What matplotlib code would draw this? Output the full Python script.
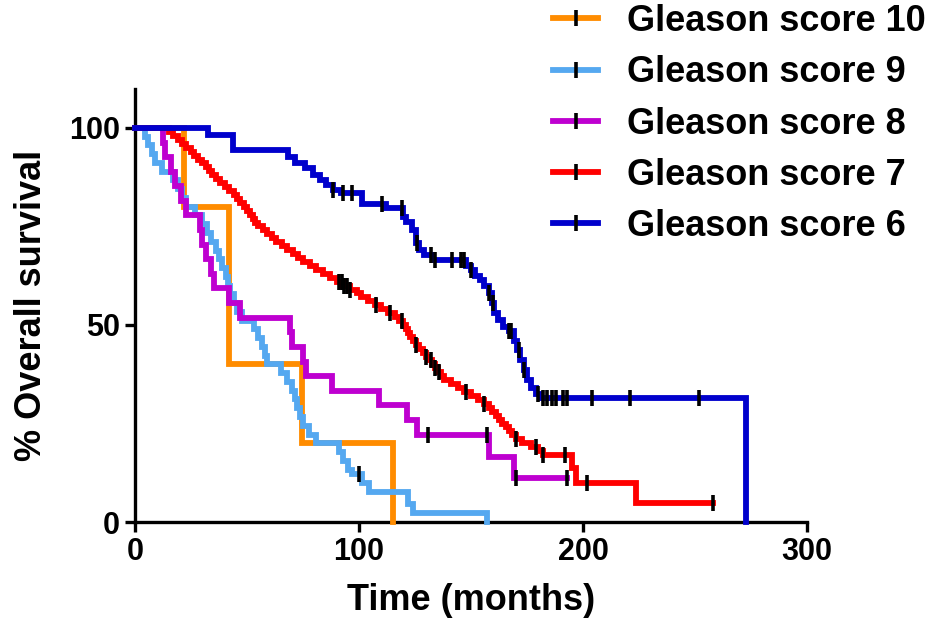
import matplotlib
matplotlib.use('Agg')
import matplotlib.pyplot as plt
from matplotlib.lines import Line2D
import numpy as np

plt.rcParams['font.family'] = ['Liberation Sans', 'DejaVu Sans']
plt.rcParams['font.weight'] = 'bold'

# ---------------- data ----------------
labels = ["Gleason score 10", "Gleason score 9", "Gleason score 8",
          "Gleason score 7", "Gleason score 6"]
colors = ["#FF8C00", "#55A8F0", "#BE00D0", "#FF0000", "#0000CC"]

# Gleason 10
gs10_t = [0, 22, 42, 74.5, 115]
gs10_s = [100, 80, 40, 20, 0]
gs10_c = []

# Gleason 9
gs9_t = [0, 4.5, 6, 7.5, 9, 12, 17, 19, 21, 23, 27, 30, 32, 34, 36, 37.5, 39,
         40.5, 41.5, 42.5, 44, 45.5, 48, 53, 55, 56.5, 58, 59, 65, 68, 70, 71.5,
         72.5, 73.5, 75, 77.5, 81, 91, 93, 95, 97, 101.5, 104.5, 122, 124, 157]
gs9_s = [100, 97.8, 95.6, 93.3, 91.1, 88.9, 86.7, 84.4, 82.2, 80, 77.8, 75.6,
         73.3, 71.1, 68.9, 66.7, 64.4, 62.2, 60, 57.8, 55.6, 53.3, 51.1, 48.9,
         46.7, 44.4, 42.2, 40, 37.8, 35.6, 33.3, 31.1, 28.9, 26.7, 24.4, 22.2,
         20, 17.8, 15.6, 13.3, 12.2, 10, 7.5, 4.5, 2.3, 0]
gs9_c = [100]

# Gleason 8
gs8_t = [0, 12.5, 13.5, 16, 18, 20.5, 23, 29, 30, 31.5, 34, 35.5, 42, 47, 69,
         70, 75, 76.5, 88, 109, 121.5, 126, 158, 169, 193]
gs8_s = [100, 96.3, 92.6, 88.9, 85.2, 81.5, 77.8, 74.1, 70.4, 66.7, 63, 59.3,
         55.6, 51.9, 48.1, 44.4, 40.7, 37, 33.3, 29.6, 25.9, 22.2, 16.6, 11.1,
         11.1]
gs8_c = [131, 157, 170, 193]

# Gleason 7
gs7_t = [0, 15, 17, 19, 21, 23, 25, 26.5, 28, 30, 31.5, 33, 34.5, 36, 38, 40,
         42, 44, 45.5, 47, 48.5, 50, 51.5, 52.5, 53.5, 55, 57, 59, 61, 63, 65.5,
         68, 70.5, 73, 75, 78, 81, 84, 87, 90, 93, 96, 99, 101, 104, 107, 110,
         113, 116, 118, 119.5, 121, 122, 123, 124, 125.5, 127, 128.5, 130, 131,
         132.5, 134, 135.5, 136.5, 138, 141, 144, 147, 150, 153, 156, 158, 159.5,
         161, 162.5, 164, 165.5, 167, 168.5, 170, 173, 177, 180, 182, 195, 197,
         223.5, 258]
gs7_s = [100, 99, 98, 97, 96, 95, 94, 93, 92, 91, 90, 89, 88, 87, 86, 85, 84,
         83, 82, 81, 80, 79, 78, 77, 76, 75, 74, 73, 72, 71, 70, 69, 68, 67, 66,
         65, 64, 63, 62, 61, 60, 59, 58, 57, 56, 55, 54, 53, 52, 51, 50, 49, 48,
         47, 46, 45, 44, 43, 42, 41, 40, 39, 38, 37, 36, 35, 34, 33, 32, 31, 30,
         29, 28, 27, 26, 25, 24, 23, 22, 21, 20, 19, 18, 17, 13.7, 10, 4.8, 4.8]
gs7_c = [91, 92.5, 93.5, 94.5, 96, 107.7, 114, 119, 125.5, 130, 132, 134,
         135.7, 148, 156, 170, 179, 182, 192, 201.6, 258]

# Gleason 6
gs6_t = [0, 32.5, 43.7, 68.5, 71.5, 76, 79.5, 82.5, 85.5, 88.5, 92, 101.5, 112,
         119.5, 121, 123.5, 125.5, 127, 129, 133, 148, 150, 152, 154, 156, 158,
         159.5, 160.5, 162, 164.5, 167, 169, 170.5, 172, 173.5, 175, 177, 179,
         181, 273]
gs6_s = [100, 98.2, 94.4, 92.6, 91, 89.8, 88, 86.8, 85.5, 84.3, 83.5, 80.8,
         79.6, 77.5, 76.2, 74, 70.8, 69, 67.8, 66.4, 65, 64, 62.5, 61.3, 59.8,
         58, 55.5, 53, 51.3, 49.5, 48.5, 46, 43.6, 41, 38.6, 36, 34, 32.5, 31.4,
         0]
gs6_c = [88.5, 93, 97, 110.5, 119, 126, 132, 134, 141.5, 145.5, 147, 150, 158,
         160, 167, 168, 171.3, 173.6, 180, 182, 184, 186, 188, 191, 193, 204,
         221, 252]

x_ticks = [0, 100, 200, 300]
y_ticks = [0, 50, 100]
x_label = "Time (months)"
y_label = "% Overall survival"

series = [(gs10_t, gs10_s, gs10_c), (gs9_t, gs9_s, gs9_c), (gs8_t, gs8_s, gs8_c),
          (gs7_t, gs7_s, gs7_c), (gs6_t, gs6_s, gs6_c)]

# ---------------- figure ----------------
fig = plt.figure(figsize=(9.38, 6.3), dpi=100)
ax = fig.add_axes([0.1439, 0.1714, 0.7164, 0.688])

LW = 4.2
MS = 11
MEW = 2.6
for (t, s, c), col in zip(series, colors):
    ax.step(t, s, where='post', color=col, lw=LW, clip_on=False, zorder=3,
            solid_joinstyle='miter')
    if c:
        t_arr = np.asarray(t, dtype=float)
        s_arr = np.asarray(s, dtype=float)
        idx = np.searchsorted(t_arr, np.asarray(c, dtype=float), side='right') - 1
        idx = np.clip(idx, 0, len(s_arr) - 1)
        ax.plot(c, s_arr[idx], ls='none', marker='|', ms=MS, mew=MEW,
                color='black', clip_on=False, zorder=4)

ax.set_xlim(0, 300)
ax.set_ylim(0, 110)
ax.set_xticks(x_ticks)
ax.set_yticks(y_ticks)
for side in ['top', 'right']:
    ax.spines[side].set_visible(False)
for side in ['left', 'bottom']:
    ax.spines[side].set_linewidth(2.4)
ax.tick_params(direction='out', length=7, width=2.4, labelsize=22, pad=4)
for lab in ax.get_xticklabels() + ax.get_yticklabels():
    lab.set_fontweight('bold')

ax.set_xlabel(x_label, fontsize=26, fontweight='bold')
ax.set_ylabel(y_label, fontsize=26, fontweight='bold')
ax.xaxis.set_label_coords(0.5, -0.14)
ax.yaxis.set_label_coords(-0.128, 0.5)

handles = [Line2D([], [], color=col, lw=LW, marker='|', markeredgecolor='black',
                  markersize=MS, mew=MEW) for col in colors]
fig.legend(handles, labels, loc='upper left',
           bbox_to_anchor=(553 / 938, 1 - 4 / 630),
           bbox_transform=fig.transFigure, frameon=False, borderaxespad=0,
           borderpad=0, handlelength=1.25, handletextpad=0.8,
           labelspacing=0.45, prop={'size': 26, 'weight': 'bold'})

fig.savefig('out.png', dpi=100)
